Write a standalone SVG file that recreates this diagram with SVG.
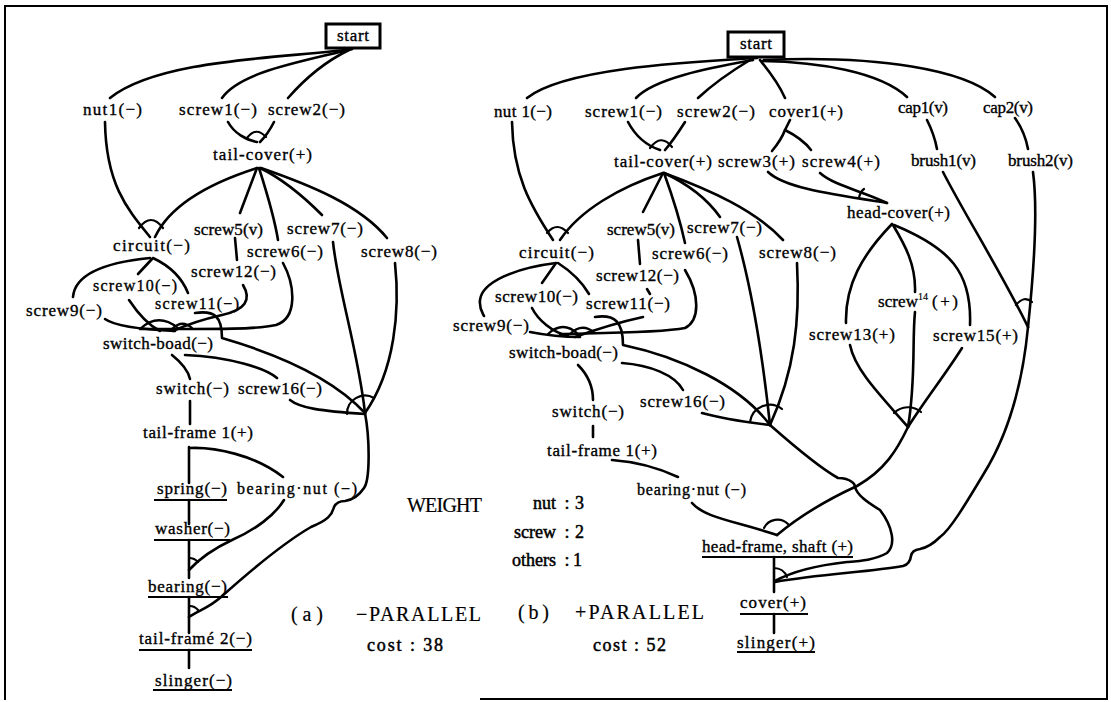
<svg xmlns="http://www.w3.org/2000/svg" width="1111" height="702" viewBox="0 0 1111 702">
<style>
.e{fill:none;stroke:#000;stroke-width:2.6;stroke-linecap:round;stroke-linejoin:round}
.a{fill:none;stroke:#000;stroke-width:2.2;stroke-linecap:round}
.u{stroke:#000;stroke-width:2}
.f{fill:none;stroke:#000;stroke-width:2}
text{font-family:"Liberation Serif","DejaVu Serif",serif;font-size:17px;fill:#000;stroke:#000;stroke-width:0.35}
.sm{font-size:16px}
.big{font-size:20px;stroke-width:0.2}
.mid{font-size:18px;stroke-width:0.5}
.sup{font-size:10px;stroke-width:0.2}
</style>
<rect width="1111" height="702" fill="#fff"/>
<path class="f" d="M5,700 L5,6 L1107,6 L1107,699 L480,699"/>

<g id="connectors-a">
<path class="e" d="M352,49 C290,58 160,58 110,98"/>
<path class="e" d="M352,49 C300,62 240,72 222,98"/>
<path class="e" d="M349,50 C322,63 302,82 288,98"/>
<path class="e" d="M228,122 C234,133 246,140 257,142"/>
<path class="e" d="M274,122 C270,130 265,137 260,142"/>
<path class="a" d="M247,138 Q256,126 266,137"/>
<path class="e" d="M257,168 C210,183 170,205 155,237"/>
<path class="e" d="M257,168 L240,213"/>
<path class="e" d="M259,168 C266,190 274,215 278,240"/>
<path class="e" d="M260,168 C285,180 305,198 322,215"/>
<path class="e" d="M261,168 C310,185 360,205 387,238"/>
<path class="e" d="M105,122 C106,185 128,210 150,237"/>
<path class="a" d="M139,228 Q151,212 163,228"/>
<path class="e" d="M150,258 C110,262 75,272 73,297"/>
<path class="e" d="M152,259 L138,274"/>
<path class="e" d="M153,258 C170,266 182,278 188,293"/>
<path class="e" d="M235,238 L237,260"/>
<path class="e" d="M105,319 C112,324 130,329 175,331"/>
<path class="e" d="M129,300 C137,312 148,325 160,331"/>
<path class="e" d="M243,285 C252,300 245,310 222,315 C200,320 186,325 173,331"/>
<path class="e" d="M283,263 C295,285 298,318 276,325 C255,330 200,329 140,329"/>
<path class="a" d="M140,329 Q158,312 178,328"/>
<path class="a" d="M172,329 Q182,319 192,328"/>
<path class="e" d="M195,313 C215,310 222,317 222,338 C270,352 330,375 365,413"/>
<path class="e" d="M172,355 C182,363 188,370 190,379"/>
<path class="e" d="M185,355 C230,357 265,368 277,378"/>
<path class="e" d="M190,401 L190,424"/>
<path class="e" d="M290,400 C300,408 320,411 365,414"/>
<path class="e" d="M333,242 C338,290 358,350 365,413"/>
<path class="e" d="M395,263 C400,310 395,370 365,413"/>
<path class="a" d="M347,414 A18,18 0 0 1 374,398"/>
<path class="e" d="M365,413 C370,440 370,480 364,488 C358,497 352,500 345,501 Q337,501 334,507 C332,515 328,520 311,527 C280,545 240,580 221,597 C210,607 200,610 189,617"/>
<path class="e" d="M190,448 C215,447 255,455 283,477"/>
<path class="e" d="M284,500 C275,515 255,530 232,540 C215,548 200,558 189,570"/>
<path class="e" d="M189,447 L189,483 M189,500 L189,524 M189,540 L189,578 M189,597 L189,633 M189,650 L189,668"/>
<path class="a" d="M189,558 A12,12 0 0 1 198,562"/>
<path class="a" d="M189,606 A11,11 0 0 1 198,610"/>
</g>

<g id="connectors-b">
<path class="e" d="M757,58 C690,62 565,68 527,98"/>
<path class="e" d="M753,60 C710,68 655,78 636,98"/>
<path class="e" d="M750,60 C730,72 712,85 698,98"/>
<path class="e" d="M760,60 C768,70 778,82 785,98"/>
<path class="e" d="M762,61 C820,62 880,72 907,97"/>
<path class="e" d="M764,60 C880,55 965,70 995,97"/>
<path class="e" d="M628,122 C636,137 648,146 660,150"/>
<path class="e" d="M685,122 C678,133 672,142 665,150"/>
<path class="a" d="M650,148 Q661,133 672,147"/>
<path class="e" d="M790,120 L785,130 C782,138 777,145 772,151"/>
<path class="e" d="M785,130 C795,135 805,142 811,150"/>
<path class="e" d="M768,172 C785,188 830,194 887,203"/>
<path class="e" d="M820,173 C835,186 860,190 887,203"/>
<path class="a" d="M859,198 Q860,192 864,189"/>
<path class="e" d="M927,120 C932,130 935,138 937,149"/>
<path class="e" d="M1015,118 C1022,128 1026,138 1028,149"/>
<path class="e" d="M943,172 C965,215 1000,270 1028,327"/>
<path class="e" d="M1033,172 C1038,210 1034,270 1028,327"/>
<path class="a" d="M1016,305 Q1024,295 1032,302"/>
<path class="e" d="M1028,327 C1022,390 1005,440 983,475 C965,505 950,530 940,537 C932,545 925,548 920,549 Q912,550 911,556 Q910,564 903,566 C870,572 820,574 775,582"/>
<path class="e" d="M663,173 C620,187 580,210 560,240"/>
<path class="e" d="M663,173 L643,212"/>
<path class="e" d="M664,173 C672,195 680,220 685,243"/>
<path class="e" d="M664,173 C690,185 708,200 720,217"/>
<path class="e" d="M664,173 C710,190 755,210 783,240"/>
<path class="e" d="M512,122 C513,175 530,205 553,240"/>
<path class="a" d="M547,233 Q557,221 568,233"/>
<path class="e" d="M638,240 L640,264"/>
<path class="e" d="M556,263 C515,268 482,282 480,300 C479,308 482,312 484,316"/>
<path class="e" d="M556,263 L542,283"/>
<path class="e" d="M558,263 C572,272 582,282 589,294"/>
<path class="e" d="M530,332 C545,335 565,337 580,337"/>
<path class="e" d="M532,308 C538,320 552,332 568,336"/>
<path class="e" d="M685,270 C700,295 700,320 685,328 C660,333 600,333 560,334"/>
<path class="e" d="M647,289 L650,294"/>
<path class="e" d="M643,317 C620,322 600,328 575,337"/>
<path class="a" d="M548,334 Q563,320 578,334"/>
<path class="a" d="M570,334 Q582,322 595,333"/>
<path class="e" d="M595,317 C615,314 623,322 623,345 C680,357 740,385 770,425"/>
<path class="e" d="M578,365 C588,375 593,388 593,400"/>
<path class="e" d="M593,426 L593,437"/>
<path class="e" d="M622,363 C650,365 675,375 683,390"/>
<path class="e" d="M702,413 C720,418 745,422 770,425"/>
<path class="e" d="M737,237 C752,290 762,350 770,425"/>
<path class="e" d="M797,263 C800,320 795,370 770,425"/>
<path class="a" d="M750,422 A20,20 0 0 1 782,409"/>
<path class="e" d="M770,425 C795,447 820,468 838,478 Q847,478 852,482 Q855,484 855,487 C857,495 867,502 880,510 C893,527 896,545 887,553 C875,560 860,561 847,562 C820,565 795,570 775,581"/>
<path class="e" d="M892,224 C862,255 845,285 846,323"/>
<path class="e" d="M893,225 C905,245 916,265 915,292"/>
<path class="e" d="M894,225 C950,248 972,272 970,325"/>
<path class="e" d="M850,345 C855,370 880,395 908,427"/>
<path class="e" d="M915,312 C912,340 916,380 908,427"/>
<path class="e" d="M962,348 C945,375 925,400 908,427"/>
<path class="a" d="M894,413 A20,20 0 0 1 921,412"/>
<path class="e" d="M908,427 C897,450 885,470 857,486 C820,503 795,520 777,535"/>
<path class="e" d="M692,503 C705,518 735,521 777,535"/>
<path class="a" d="M764,528 A15,15 0 0 1 788,524"/>
<path class="e" d="M612,460 C640,462 663,470 678,477"/>
<path class="e" d="M774,557 L774,592 M774,614 L774,633"/>
<path class="a" d="M774,568 A14,14 0 0 1 787,577"/>
</g>

<g id="a-start"><rect x="326" y="24" width="54" height="24" fill="none" stroke="#000" stroke-width="3"/><text x="337" y="41" textLength="32" lengthAdjust="spacing">start</text></g>
<g id="a-nut1"><text x="83" y="115" textLength="59" lengthAdjust="spacing">nut1(−)</text></g>
<g id="a-screw1"><text x="179" y="115" textLength="78" lengthAdjust="spacing">screw1(−)</text></g>
<g id="a-screw2"><text x="268" y="115" textLength="77" lengthAdjust="spacing">screw2(−)</text></g>
<g id="a-tail-cover"><text x="213" y="160" textLength="99" lengthAdjust="spacing">tail-cover(+)</text></g>
<g id="a-screw5"><text x="194" y="235" textLength="69" lengthAdjust="spacing">screw5(v)</text></g>
<g id="a-screw7"><text x="287" y="234" textLength="76" lengthAdjust="spacing">screw7(−)</text></g>
<g id="a-circuit"><text x="113" y="251" textLength="77" lengthAdjust="spacing">circuit(−)</text></g>
<g id="a-screw6"><text x="247" y="257" textLength="76" lengthAdjust="spacing">screw6(−)</text></g>
<g id="a-screw8"><text x="361" y="257" textLength="76" lengthAdjust="spacing">screw8(−)</text></g>
<g id="a-screw12"><text x="191" y="277" textLength="85" lengthAdjust="spacing">screw12(−)</text></g>
<g id="a-screw10"><text class="sm" x="93" y="291" textLength="84" lengthAdjust="spacing">screw10(−)</text></g>
<g id="a-screw11"><text class="sm" x="155" y="309" textLength="84" lengthAdjust="spacing">screw11(−)</text></g>
<g id="a-screw9"><text x="26" y="316" textLength="76" lengthAdjust="spacing">screw9(−)</text></g>
<g id="a-switch-boad"><text x="103" y="349" textLength="110" lengthAdjust="spacing">switch-boad(−)</text></g>
<g id="a-switch"><text x="156" y="394" textLength="73" lengthAdjust="spacing">switch(−)</text></g>
<g id="a-screw16"><text x="238" y="394" textLength="84" lengthAdjust="spacing">screw16(−)</text></g>
<g id="a-tail-frame1"><text x="143" y="438" textLength="110" lengthAdjust="spacing">tail-frame 1(+)</text></g>
<g id="a-spring"><text x="157" y="494" textLength="70" lengthAdjust="spacing">spring(−)</text><line class="u" x1="154" y1="500" x2="227" y2="500"/></g>
<g id="a-bearing-nut"><text class="sm" x="237" y="494" textLength="120" lengthAdjust="spacing">bearing·nut (−)</text></g>
<g id="a-washer"><text x="155" y="534" textLength="75" lengthAdjust="spacing">washer(−)</text><line class="u" x1="154" y1="540" x2="230" y2="540"/></g>
<g id="a-bearing"><text x="148" y="592" textLength="79" lengthAdjust="spacing">bearing(−)</text><line class="u" x1="148" y1="597" x2="228" y2="597"/></g>
<g id="a-tail-frame2"><text x="139" y="644" textLength="113" lengthAdjust="spacing">tail-framé 2(−)</text><line class="u" x1="139" y1="650" x2="252" y2="650"/></g>
<g id="a-slinger"><text x="155" y="686" textLength="77" lengthAdjust="spacing">slinger(−)</text><line class="u" x1="153" y1="690" x2="232" y2="690"/></g>

<g id="b-start"><rect x="728" y="32" width="56" height="25" fill="none" stroke="#000" stroke-width="3"/><text x="740" y="49" textLength="32" lengthAdjust="spacing">start</text></g>
<g id="b-nut1"><text x="494" y="117" textLength="58" lengthAdjust="spacing">nut 1(−)</text></g>
<g id="b-screw1"><text x="585" y="117" textLength="77" lengthAdjust="spacing">screw1(−)</text></g>
<g id="b-screw2"><text x="677" y="117" textLength="78" lengthAdjust="spacing">screw2(−)</text></g>
<g id="b-cover1"><text x="769" y="117" textLength="74" lengthAdjust="spacing">cover1(+)</text></g>
<g id="b-cap1"><text x="898" y="113" textLength="50" lengthAdjust="spacing">cap1(v)</text></g>
<g id="b-cap2"><text x="983" y="113" textLength="50" lengthAdjust="spacing">cap2(v)</text></g>
<g id="b-tail-cover"><text x="614" y="167" textLength="98" lengthAdjust="spacing">tail-cover(+)</text></g>
<g id="b-screw3"><text x="718" y="167" textLength="77" lengthAdjust="spacing">screw3(+)</text></g>
<g id="b-screw4"><text x="802" y="167" textLength="78" lengthAdjust="spacing">screw4(+)</text></g>
<g id="b-brush1"><text x="911" y="166" textLength="65" lengthAdjust="spacing">brush1(v)</text></g>
<g id="b-brush2"><text x="1008" y="166" textLength="65" lengthAdjust="spacing">brush2(v)</text></g>
<g id="b-head-cover"><text x="847" y="218" textLength="103" lengthAdjust="spacing">head-cover(+)</text></g>
<g id="b-screw5"><text x="607" y="235" textLength="68" lengthAdjust="spacing">screw5(v)</text></g>
<g id="b-screw7"><text x="687" y="233" textLength="75" lengthAdjust="spacing">screw7(−)</text></g>
<g id="b-circuit"><text x="519" y="258" textLength="75" lengthAdjust="spacing">circuit(−)</text></g>
<g id="b-screw6"><text x="652" y="259" textLength="76" lengthAdjust="spacing">screw6(−)</text></g>
<g id="b-screw8"><text x="759" y="258" textLength="77" lengthAdjust="spacing">screw8(−)</text></g>
<g id="b-screw12"><text x="596" y="281" textLength="83" lengthAdjust="spacing">screw12(−)</text></g>
<g id="b-screw10"><text x="495" y="302" textLength="83" lengthAdjust="spacing">screw10(−)</text></g>
<g id="b-screw11"><text x="586" y="309" textLength="84" lengthAdjust="spacing">screw11(−)</text></g>
<g id="b-screw9"><text x="453" y="331" textLength="76" lengthAdjust="spacing">screw9(−)</text></g>
<g id="b-switch-boad"><text x="509" y="358" textLength="109" lengthAdjust="spacing">switch-boad(−)</text></g>
<g id="b-screw14"><text x="878" y="307" textLength="40" lengthAdjust="spacing">screw</text><text class="sup" x="918" y="300">14</text><text x="932" y="307" textLength="26" lengthAdjust="spacing">(+)</text></g>
<g id="b-screw13"><text x="809" y="340" textLength="86" lengthAdjust="spacing">screw13(+)</text></g>
<g id="b-screw15"><text x="933" y="341" textLength="85" lengthAdjust="spacing">screw15(+)</text></g>
<g id="b-screw16"><text x="640" y="407" textLength="85" lengthAdjust="spacing">screw16(−)</text></g>
<g id="b-switch"><text x="552" y="417" textLength="72" lengthAdjust="spacing">switch(−)</text></g>
<g id="b-tail-frame1"><text x="547" y="456" textLength="110" lengthAdjust="spacing">tail-frame 1(+)</text></g>
<g id="b-bearing-nut"><text class="sm" x="637" y="495" textLength="109" lengthAdjust="spacing">bearing·nut (−)</text></g>
<g id="b-head-frame"><text x="702" y="552" textLength="151" lengthAdjust="spacing">head-frame, shaft (+)</text><line class="u" x1="702" y1="557" x2="853" y2="557"/></g>
<g id="b-cover"><text x="740" y="608" textLength="66" lengthAdjust="spacing">cover(+)</text><line class="u" x1="740" y1="614" x2="808" y2="614"/></g>
<g id="b-slinger"><text x="737" y="648" textLength="78" lengthAdjust="spacing">slinger(+)</text><line class="u" x1="737" y1="652" x2="815" y2="652"/></g>

<g id="legend">
<text class="big" x="407" y="512" textLength="75" lengthAdjust="spacing">WEIGHT</text>
<text class="mid" x="556" y="509" text-anchor="end">nut</text><text class="mid" x="567" y="509" text-anchor="middle">:</text><text class="mid" x="575" y="509">3</text>
<text class="mid" x="556" y="538" text-anchor="end">screw</text><text class="mid" x="567" y="538" text-anchor="middle">:</text><text class="mid" x="575" y="538">2</text>
<text class="mid" x="556" y="566" text-anchor="end">others</text><text class="mid" x="567" y="566" text-anchor="middle">:</text><text class="mid" x="573" y="566">1</text>
<text class="big" x="291" y="621" textLength="32" lengthAdjust="spacing">( a )</text>
<text class="big" x="356" y="621" textLength="125" lengthAdjust="spacing">−PARALLEL</text>
<text class="big" x="518" y="619" textLength="31" lengthAdjust="spacing">( b )</text>
<text class="big" x="575" y="619" textLength="129" lengthAdjust="spacing">+PARALLEL</text>
<text class="mid" x="367" y="651" textLength="76" lengthAdjust="spacing">cost : 38</text>
<text class="mid" x="593" y="651" textLength="73" lengthAdjust="spacing">cost : 52</text>
</g>
</svg>
